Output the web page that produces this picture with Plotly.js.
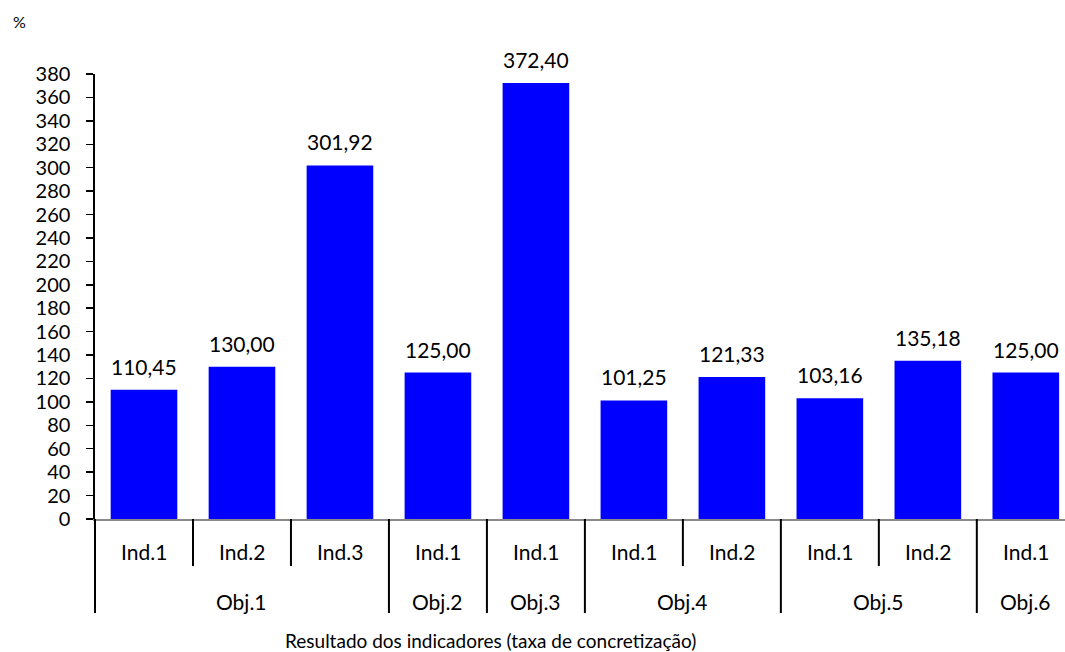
<!DOCTYPE html>
<html><head><meta charset="utf-8">
<script src="https://cdn.plot.ly/plotly-3.0.1.min.js"></script>
<style>html,body{margin:0;padding:0;overflow:hidden;background:#fff}</style>
</head><body><div id="chart" style="width:1065px;height:652px"></div>
<script>
const objectives = ["Obj.1","Obj.1","Obj.1","Obj.2","Obj.3","Obj.4","Obj.4","Obj.5","Obj.5","Obj.6"];
const indicators = ["Ind.1","Ind.2","Ind.3","Ind.1","Ind.1","Ind.1","Ind.2","Ind.1","Ind.2","Ind.1"];
const values = [110.45,130.00,301.92,125.00,372.40,101.25,121.33,103.16,135.18,125.00];
const yTicks = [0,20,40,60,80,100,120,140,160,180,200,220,240,260,280,300,320,340,360,380];
const xTitle = 'Resultado dos indicadores (taxa de concretização)';
const yUnit = '%';

const FONT = "Lato, 'Open Sans', sans-serif";
const cats = objectives.map((o, i) => o + ' · ' + indicators[i]);
const n = cats.length;
const RANGE_MAX = n - 0.6;

// paper-y positions below the axis
const Y_IND = -0.072, Y_OBJ = -0.1865, Y_INNER = -0.1056, Y_FULL = -0.2112, Y_TITLE = -0.274;

const annotations = [];
const shapes = [];

// value labels
values.forEach((v, i) => annotations.push({
  x: i, y: v, xref: 'x', yref: 'y', text: v.toFixed(2).replace('.', ','),
  showarrow: false, yanchor: 'bottom', yshift: 9,
  font: {family: FONT, size: 21, color: '#000'}
}));
// indicator labels
indicators.forEach((t, i) => annotations.push({
  x: i, y: Y_IND, xref: 'x', yref: 'paper', text: t, showarrow: false,
  xanchor: 'center', yanchor: 'middle', font: {family: FONT, size: 21, color: '#000'}
}));
// objective groups
const groups = [];
objectives.forEach((o, i) => {
  if (groups.length && groups[groups.length - 1].name === o) groups[groups.length - 1].end = i;
  else groups.push({name: o, start: i, end: i});
});
groups.forEach(g => {
  annotations.push({
    x: (g.start + g.end) / 2, y: Y_OBJ, xref: 'x', yref: 'paper', text: g.name, showarrow: false,
    xanchor: 'center', yanchor: 'middle', font: {family: FONT, size: 21, color: '#000'}
  });
});
// dividers
shapes.push({
  type: 'line', xref: 'paper', yref: 'paper', x0: 0, x1: 0, y0: 0, y1: Y_FULL,
  line: {color: '#000', width: 2}
});
for (let b = 0.5; b < RANGE_MAX; b += 1) {
  const isGroup = groups.some(g => g.start - 0.5 === b);
  shapes.push({
    type: 'line', xref: 'x', yref: 'paper', x0: b, x1: b, y0: 0, y1: isGroup ? Y_FULL : Y_INNER,
    line: {color: '#000', width: 2}
  });
}
annotations.push({
  text: xTitle, xref: 'paper', yref: 'paper', x: 0.408, y: Y_TITLE,
  xanchor: 'center', yanchor: 'middle', showarrow: false,
  font: {family: FONT, size: 19, color: '#000'}
});
annotations.push({
  text: yUnit, xref: 'paper', yref: 'paper', x: -0.0866, y: 1.117,
  xanchor: 'left', yanchor: 'middle', showarrow: false,
  font: {family: FONT, size: 16, color: '#000'}
});

Plotly.newPlot('chart', [{
  type: 'bar',
  x: cats,
  y: values,
  marker: {color: '#0000FF', line: {width: 0}},
  width: 0.68,
  hoverinfo: 'skip'
}], {
  width: 1065, height: 652,
  margin: {l: 95, r: 0, t: 74, b: 133},
  paper_bgcolor: '#fff', plot_bgcolor: '#fff',
  font: {family: FONT, size: 20, color: '#000'},
  showlegend: false,
  xaxis: {
    type: 'category',
    range: [-0.5, RANGE_MAX],
    showline: true, linecolor: '#8a8a8a', linewidth: 1.6,
    ticks: '', showticklabels: false,
    showgrid: false, zeroline: false
  },
  yaxis: {
    range: [0, 380],
    tickvals: yTicks,
    ticktext: yTicks.map(String),
    showline: true, linecolor: '#000', linewidth: 1.6,
    ticks: 'outside', ticklen: 7, tickwidth: 1.5, tickcolor: '#000',
    showgrid: false, zeroline: false,
    tickfont: {family: FONT, size: 20, color: '#000'},
    ticklabelstandoff: 12
  },
  shapes: shapes,
  annotations: annotations
}, {staticPlot: true, displayModeBar: false});
</script>
</body></html>
